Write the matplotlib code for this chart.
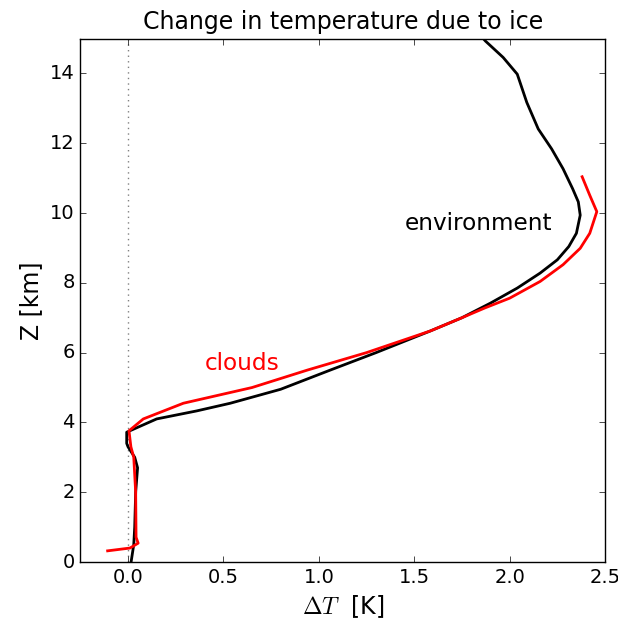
import matplotlib
matplotlib.use("Agg")
import matplotlib.pyplot as plt

# Environment (black) profile: dT [K] vs Z [km]
env_z = [0.0, 0.5, 1.0, 2.0, 2.7, 3.0, 3.3, 3.4, 3.72, 4.10, 4.33, 4.55, 4.95, 5.5, 6.0, 6.62, 7.0, 7.42, 7.85, 8.28, 8.66, 9.04, 9.42, 9.94, 10.32, 10.7, 11.27, 11.84, 12.41, 13.17, 13.98, 14.46, 14.93, 15.2]
env_dt = [0.016, 0.03, 0.035, 0.04, 0.05, 0.035, 0.0, -0.007, -0.007, 0.15, 0.36, 0.536, 0.80, 1.06, 1.30, 1.584, 1.75, 1.90, 2.04, 2.16, 2.25, 2.31, 2.35, 2.37, 2.36, 2.33, 2.28, 2.22, 2.15, 2.09, 2.04, 1.966, 1.873, 1.83]

# Clouds (red) profile
cld_z = [0.32, 0.40, 0.54, 0.71, 2.0, 3.0, 3.3, 3.76, 4.10, 4.55, 5.0, 5.5, 6.0, 6.62, 7.0, 7.28, 7.56, 8.04, 8.52, 8.99, 9.42, 10.04, 10.51, 11.04]
cld_dt = [-0.107, 0.01, 0.053, 0.042, 0.04, 0.03, 0.015, 0.005, 0.08, 0.29, 0.65, 0.94, 1.25, 1.584, 1.75, 1.87, 2.00, 2.16, 2.28, 2.37, 2.42, 2.457, 2.42, 2.38]

xticks = [0.0, 0.5, 1.0, 1.5, 2.0, 2.5]
yticks = [0, 2, 4, 6, 8, 10, 12, 14]

plt.style.use("classic")
fig = plt.figure(figsize=(6.18, 6.18), dpi=100, facecolor="white")
ax = fig.add_axes([0.130, 0.0906, 0.849, 0.847])
ax.set_facecolor("white")

ax.axvline(0.0, color="gray", linestyle=":", linewidth=1)
ax.plot(env_dt, env_z, color="black", linewidth=2)
ax.plot(cld_dt, cld_z, color="red", linewidth=2)

ax.text(1.45, 9.7, "environment", color="black", fontsize=16.7, va="center", ha="left")
ax.text(0.40, 5.7, "clouds", color="red", fontsize=16.7, va="center", ha="left")

ax.set_xlim(-0.25, 2.5)
ax.set_ylim(0, 15)
ax.set_xticks(xticks)
ax.set_yticks(yticks)
ax.tick_params(labelsize=14, direction="in", top=True, right=True)
ax.set_xlabel(r"$\Delta T$  [K]", fontsize=17)
ax.set_ylabel("Z [km]", fontsize=17)
ax.set_title("Change in temperature due to ice", fontsize=17, y=1.005)

fig.savefig("out.png", dpi=100, facecolor="white")
